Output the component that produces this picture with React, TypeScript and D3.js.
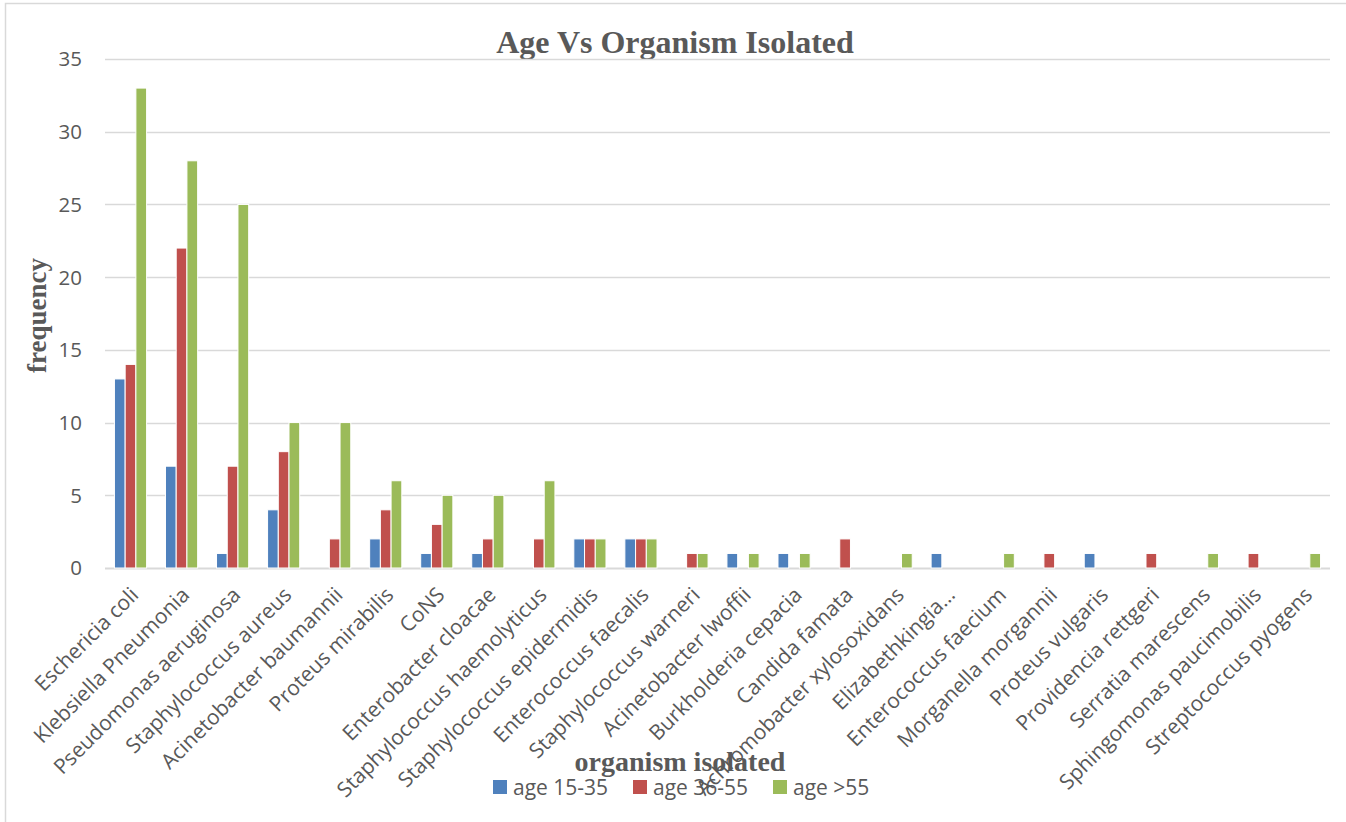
import React from "react";
import * as d3 from "d3";

// Organisms isolated, in chart order
const categories: string[] = [
  "Eschericia coli",
  "Klebsiella Pneumonia",
  "Pseudomonas aeruginosa",
  "Staphylococcus aureus",
  "Acinetobacter baumannii",
  "Proteus mirabilis",
  "CoNS",
  "Enterobacter cloacae",
  "Staphylococcus haemolyticus",
  "Staphylococcus epidermidis",
  "Enterococcus faecalis",
  "Staphylococcus warneri",
  "Acinetobacter lwoffii",
  "Burkholderia cepacia",
  "Candida famata",
  "Achromobacter xylosoxidans",
  "Elizabethkingia…",
  "Enterococcus faecium",
  "Morganella morgannii",
  "Proteus vulgaris",
  "Providencia rettgeri",
  "Serratia marescens",
  "Sphingomonas paucimobilis",
  "Streptococcus pyogens",
];

const age15to35: number[] = [13, 7, 1, 4, 0, 2, 1, 1, 0, 2, 2, 0, 1, 1, 0, 0, 1, 0, 0, 1, 0, 0, 0, 0];
const age36to55: number[] = [14, 22, 7, 8, 2, 4, 3, 2, 2, 2, 2, 1, 0, 0, 2, 0, 0, 0, 1, 0, 1, 0, 1, 0];
const ageOver55: number[] = [33, 28, 25, 10, 10, 6, 5, 5, 6, 2, 2, 1, 1, 1, 0, 1, 0, 1, 0, 0, 0, 1, 0, 1];

const seriesNames: string[] = ["age 15-35", "age 36-55", "age >55"];
const seriesColors: string[] = ["#4F81BD", "#C0504D", "#9BBB59"];
const yTicks: number[] = [0, 5, 10, 15, 20, 25, 30, 35];

const W = 1346;
const H = 822;
const plot = { left: 105, right: 1330, top: 59, bottom: 568 };
const textColor = "#595959";
const gridColor = "#D9D9D9";
const sansFont = "'Open Sans', Carlito, Calibri, sans-serif";
const serifFont = "'Liberation Serif', 'Times New Roman', serif";

export default function App() {
  const series = [age15to35, age36to55, ageOver55];

  const x0 = d3
    .scaleBand<string>()
    .domain(categories)
    .range([plot.left, plot.right])
    .paddingInner(0.37)
    .paddingOuter(0.185);

  const x1 = d3
    .scaleBand<string>()
    .domain(seriesNames)
    .range([0, x0.bandwidth()])
    .padding(0);

  const y = d3.scaleLinear().domain([0, 35]).range([plot.bottom, plot.top]);

  return (
    <svg
      width={W}
      height={H}
      style={{ position: "absolute", left: 0, top: 0, background: "#fff" }}
    >
      {/* chart frame */}
      <rect x={5.5} y={3.5} width={W + 10} height={H + 10} fill="#fff" stroke={gridColor} strokeWidth={1.5} />

      {/* title */}
      <text
        x={675}
        y={53}
        textAnchor="middle"
        fontFamily={serifFont}
        fontWeight="bold"
        fontSize={32}
        fill={textColor}
      >
        Age Vs Organism Isolated
      </text>

      {/* gridlines and y ticks */}
      {yTicks.map((t) => (
        <g key={t}>
          <line
            x1={plot.left}
            x2={plot.right}
            y1={Math.round(y(t)) + 0.5}
            y2={Math.round(y(t)) + 0.5}
            stroke={gridColor}
            strokeWidth={t === 0 ? 2 : 1.5}
          />
          <text
            x={82}
            y={y(t)}
            dy="0.36em"
            textAnchor="end"
            fontFamily={sansFont}
            fontSize={20.5}
            fill={textColor}
          >
            {t}
          </text>
        </g>
      ))}

      {/* bars */}
      {categories.map((c, ci) => (
        <g key={c} transform={`translate(${x0(c)},0)`}>
          {series.map((vals, si) =>
            vals[ci] > 0 ? (
              <rect
                key={si}
                x={x1(seriesNames[si])}
                y={y(vals[ci])}
                width={x1.bandwidth()}
                height={y(0) - y(vals[ci])}
                fill={seriesColors[si]}
                stroke="#fff"
                strokeWidth={1}
              />
            ) : null
          )}
        </g>
      ))}

      {/* category labels */}
      {categories.map((c) => {
        const cx = (x0(c) as number) + x0.bandwidth() / 2;
        return (
          <text
            key={c}
            transform={`translate(${cx + 4},${plot.bottom + 23}) rotate(-45)`}
            textAnchor="end"
            dy="0.35em"
            fontFamily={sansFont}
            fontSize={21}
            fill={textColor}
          >
            {c}
          </text>
        );
      })}

      {/* axis titles */}
      <text
        transform={`translate(46,${(plot.top + plot.bottom) / 2 + 2}) rotate(-90)`}
        textAnchor="middle"
        fontFamily={serifFont}
        fontWeight="bold"
        fontSize={27}
        fill={textColor}
      >
        frequency
      </text>
      <text
        x={680}
        y={771}
        textAnchor="middle"
        fontFamily={serifFont}
        fontWeight="bold"
        fontSize={28}
        fill={textColor}
      >
        organism isolated
      </text>

      {/* legend */}
      {seriesNames.map((n, i) => (
        <g key={n} transform={`translate(${493 + i * 140},780)`}>
          <rect width={14} height={14} fill={seriesColors[i]} />
          <text x={20} y={7} dy="0.36em" fontFamily={sansFont} fontSize={21} fill={textColor}>
            {n}
          </text>
        </g>
      ))}
    </svg>
  );
}
